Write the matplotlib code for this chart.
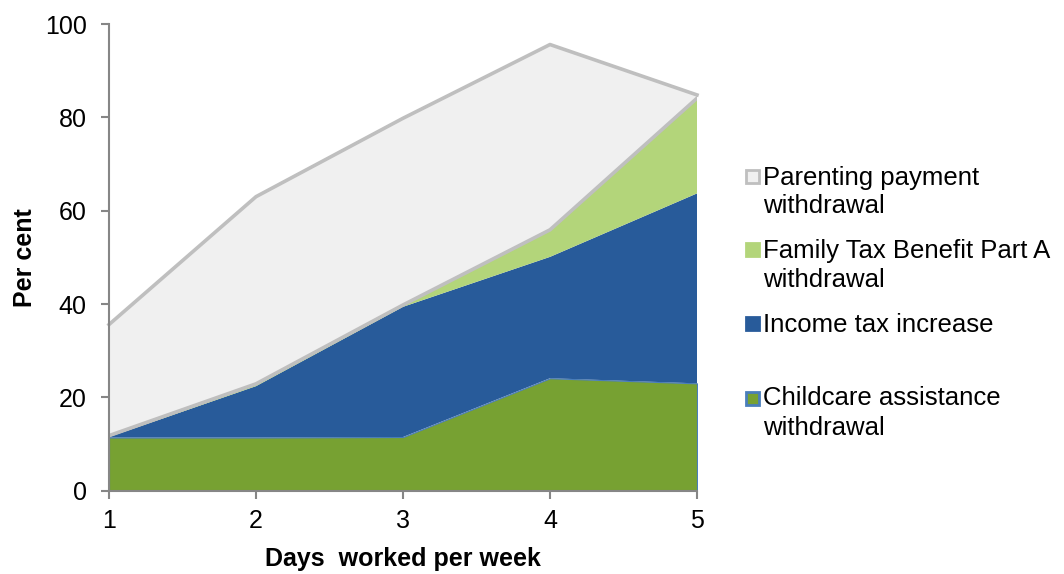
import numpy as np
import matplotlib
matplotlib.use("Agg")
import matplotlib.pyplot as plt
from matplotlib.patches import Rectangle

plt.rcParams['font.family'] = ['Liberation Sans', 'DejaVu Sans']

# datos
dias = [1, 2, 3, 4, 5]
childcare = [11.4, 11.4, 11.5, 24.1, 23.0]
income_tax = [0.1, 11.0, 27.9, 26.0, 40.7]
ftb = [0.3, 0.5, 0.4, 5.8, 20.4]
parenting = [23.8, 40.1, 40.0, 39.7, 0.7]

etiquetas = [["Parenting payment", "withdrawal"],
             ["Family Tax Benefit Part A", "withdrawal"],
             ["Income tax increase"],
             ["Childcare assistance", "withdrawal"]]
colores = ['#f0f0f0', '#b3d57a', '#285b9a', '#77a132']
bordes = ['#bfbfbf', '#b3d57a', '#285b9a', '#4a7ebb']

W, H = 1064, 574
fig = plt.figure(figsize=(W / 100, H / 100), dpi=100)
ax = fig.add_axes([109 / W, 1 - 490.7 / H, (697 - 109) / W, (490.7 - 24) / H])

polys = ax.stackplot(dias, childcare, income_tax, ftb, parenting,
                     colors=[colores[3], colores[2], colores[1], colores[0]])
polys[0].set_edgecolor('#4a7ebb')
polys[0].set_linewidth(0.8)
for p in polys[1:]:
    p.set_linewidth(0)

# borde gris de la serie parenting (arriba y abajo)
base = np.array(childcare) + np.array(income_tax) + np.array(ftb)
tope = base + np.array(parenting)
ax.plot(dias, base, color='#bfbfbf', lw=2.6, solid_joinstyle='round')
ax.plot(dias, tope, color='#bfbfbf', lw=2.6, solid_joinstyle='round', clip_on=False)

ax.set_xlim(1, 5)
ax.set_ylim(0, 100)
ax.set_xticks(dias)
ax.set_yticks(np.arange(0, 101, 20))
for s in ['top', 'right']:
    ax.spines[s].set_visible(False)
for s in ['left', 'bottom']:
    ax.spines[s].set_color('#868686')
    ax.spines[s].set_linewidth(1.5)
    ax.spines[s].set_zorder(5)
ax.tick_params(axis='both', colors='#868686', labelcolor='black', labelsize=18,
               length=6, width=1.5, direction='out')
ax.tick_params(axis='y', pad=10)
ax.tick_params(axis='x', pad=7)

ax.set_xlabel("Days  worked per week", fontsize=18, fontweight='bold', labelpad=10)
ax.set_ylabel("Per cent", fontsize=18, fontweight='bold', labelpad=6)

# leyenda manual
lineas_base = [[185, 213], [258, 287], [332], [405, 435]]
marcas_y = [170, 243, 317, 392]
for etq, ys, my, c, b in zip(etiquetas, lineas_base, marcas_y, colores, bordes):
    fig.patches.append(Rectangle((746 / W, 1 - (my + 13) / H), 13 / W, 13 / H,
                                 transform=fig.transFigure, facecolor=c,
                                 edgecolor=b, linewidth=2))
    for linea, y in zip(etq, ys):
        fig.text(763 / W, 1 - y / H, linea, fontsize=18.5, va='baseline', ha='left')

plt.savefig("out.png", dpi=100)
